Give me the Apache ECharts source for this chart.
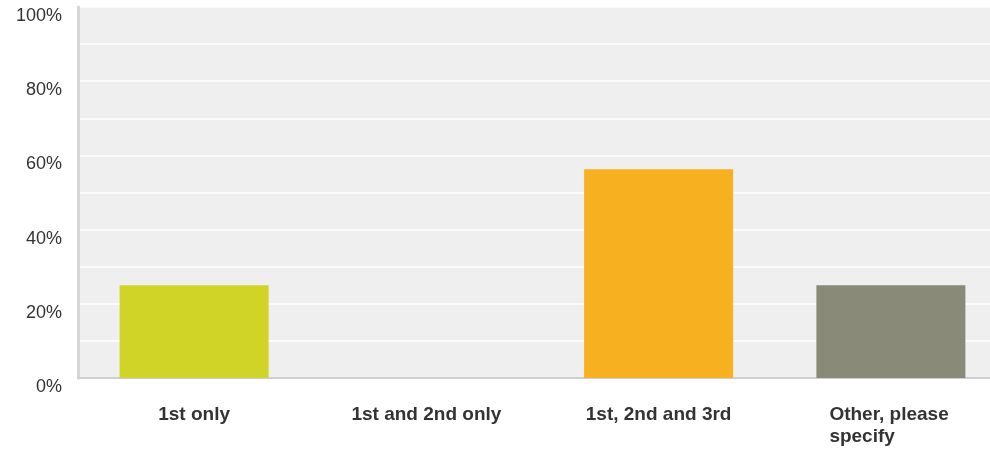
<!DOCTYPE html>
<html>
<head>
<meta charset="utf-8">
<script src="https://cdn.jsdelivr.net/npm/echarts@6/dist/echarts.min.js"></script>
<style>
  html, body { margin: 0; padding: 0; background: #fff; overflow: hidden; }
  #chart { width: 1007px; height: 455px; }
</style>
</head>
<body>
<div id="chart"></div>
<script>
// Answer options and share of respondents (%)
const categories = ['1st only', '1st and 2nd only', '1st, 2nd and 3rd', 'Other, please specify'];
const values = [25, 0, 56.25, 25];
const barColors = ['#CFD426', '#5B9BD5', '#F7B01F', '#8A8A79'];
const yTicks = [0, 20, 40, 60, 80, 100];

const chart = echarts.init(document.getElementById('chart'), null, { renderer: 'canvas' });

chart.setOption({
  animation: false,
  grid: {
    left: 78,
    right: 0,
    top: 7,
    bottom: 77,
    show: true,
    backgroundColor: '#EFEFEF',
    borderWidth: 0
  },
  xAxis: {
    type: 'category',
    data: categories,
    axisLine: { show: true, lineStyle: { color: '#CFCFCF', width: 2 } },
    axisTick: { show: false },
    splitLine: { show: false },
    axisLabel: {
      interval: 0,
      margin: 26,
      fontFamily: 'Liberation Sans, Arial, sans-serif',
      fontSize: 19,
      fontWeight: 'bold',
      color: '#333333',
      lineHeight: 22,
      formatter: function (v) {
        if (v === 'Other, please specify') {
          return '{l|Other, please}\n{l|specify}';
        }
        return v;
      },
      rich: {
        l: {
          width: 123,
          align: 'left',
          fontFamily: 'Liberation Sans, Arial, sans-serif',
          fontSize: 19,
          fontWeight: 'bold',
          color: '#333333',
          lineHeight: 22
        }
      }
    }
  },
  yAxis: {
    type: 'value',
    min: 0,
    max: 100,
    interval: 10,
    axisLine: { show: true, lineStyle: { color: '#D6D6D6', width: 3 } },
    axisTick: { show: false },
    splitLine: { show: true, lineStyle: { color: '#FFFFFF', width: 1.5 } },
    axisLabel: {
      margin: 16,
      verticalAlign: 'top',
      fontFamily: 'Liberation Sans, Arial, sans-serif',
      fontSize: 18,
      color: '#333333',
      formatter: function (v) {
        return yTicks.indexOf(v) >= 0 ? v + '%' : '';
      }
    }
  },
  series: [{
    type: 'bar',
    barWidth: 149,
    data: values.map(function (v, i) {
      return { value: v, itemStyle: { color: barColors[i] } };
    })
  }]
});
</script>
</body>
</html>
